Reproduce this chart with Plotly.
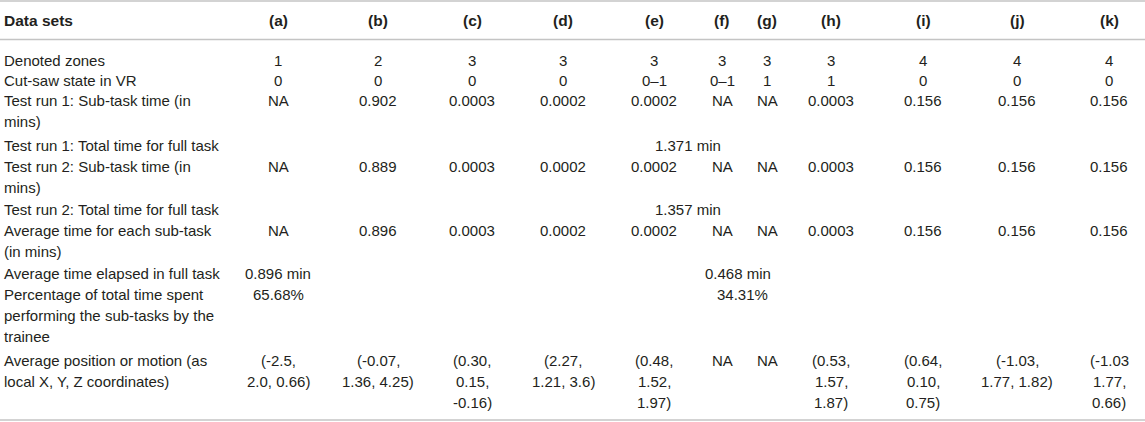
import plotly.graph_objects as go

# ---------------- data ----------------
header_label = "Data sets"
columns = ["(a)", "(b)", "(c)", "(d)", "(e)", "(f)", "(g)", "(h)", "(i)", "(j)", "(k)"]

row_labels = [
    "Denoted zones",
    "Cut-saw state in VR",
    "Test run 1: Sub-task time (in<br>mins)",
    "Test run 1: Total time for full task",
    "Test run 2: Sub-task time (in<br>mins)",
    "Test run 2: Total time for full task",
    "Average time for each sub-task<br>(in mins)",
    "Average time elapsed in full task",
    "Percentage of total time spent<br>performing the sub-tasks by the<br>trainee",
    "Average position or motion (as<br>local X, Y, Z coordinates)",
]

denoted_zones = ["1", "2", "3", "3", "3", "3", "3", "3", "4", "4", "4"]
cut_saw_state = ["0", "0", "0", "0", "0–1", "0–1", "1", "1", "0", "0", "0"]
run1_sub_time = ["NA", "0.902", "0.0003", "0.0002", "0.0002", "NA", "NA", "0.0003", "0.156", "0.156", "0.156"]
run1_total = ["1.371 min"]
run2_sub_time = ["NA", "0.889", "0.0003", "0.0002", "0.0002", "NA", "NA", "0.0003", "0.156", "0.156", "0.156"]
run2_total = ["1.357 min"]
avg_sub_time = ["NA", "0.896", "0.0003", "0.0002", "0.0002", "NA", "NA", "0.0003", "0.156", "0.156", "0.156"]
avg_elapsed = ["0.896 min", "0.468 min"]
pct_time = ["65.68%", "34.31%"]
avg_position = [
    "(-2.5,<br>2.0, 0.66)",
    "(-0.07,<br>1.36, 4.25)",
    "(0.30,<br>0.15,<br>-0.16)",
    "(2.27,<br>1.21, 3.6)",
    "(0.48,<br>1.52,<br>1.97)",
    "NA",
    "NA",
    "(0.53,<br>1.57,<br>1.87)",
    "(0.64,<br>0.10,<br>0.75)",
    "(-1.03,<br>1.77, 1.82)",
    "(-1.03<br>1.77,<br>0.66)",
]

# ---------------- layout (pixel positions) ----------------
W, H = 1145, 422
col_x = [278, 378, 472, 563, 654, 722, 767, 831, 923, 1017, 1109]
label_x = 2
header_y = 20
row_y = [60, 80, 100, 145, 166, 209, 230, 273, 294, 360]
line_gap = 21
span_x_total = 688           # spans (e)-(f)
span_x_second = [278, 738]   # (a) and the merged block right of it
rules_y = [1, 39.5, 420]

FONT = "Liberation Sans, Arial, Helvetica, sans-serif"
TXT = "#231f20"
SIZE = 15

fig = go.Figure()
annotations = []


def add_text(x, y, text, anchor="center", bold=False):
    # split multi-line cells so the line spacing matches the source table
    for k, part in enumerate(text.split("<br>")):
        annotations.append(dict(
            x=x, y=y + k * line_gap, xref="x", yref="y",
            text="<b>" + part + "</b>" if bold else part,
            showarrow=False, xanchor=anchor, yanchor="middle",
            font=dict(family=FONT, size=SIZE + (0.5 if bold else 0), color=TXT),
        ))


# header
add_text(label_x, header_y, header_label, anchor="left", bold=True)
for cx, c in zip(col_x, columns):
    add_text(cx, header_y, c, bold=True)

# row labels
for ry, lab in zip(row_y, row_labels):
    add_text(label_x, ry, lab, anchor="left")

# per-column rows
per_col_rows = {0: denoted_zones, 1: cut_saw_state, 2: run1_sub_time,
                4: run2_sub_time, 6: avg_sub_time, 9: avg_position}
for ri, vals in per_col_rows.items():
    for cx, v in zip(col_x, vals):
        add_text(cx, row_y[ri], v)

# merged rows
add_text(span_x_total, row_y[3], run1_total[0])
add_text(span_x_total, row_y[5], run2_total[0])
for sx, v in zip(span_x_second, avg_elapsed):
    add_text(sx, row_y[7], v)
for sx, v in zip([span_x_second[0], span_x_second[1] + 4], pct_time):
    add_text(sx, row_y[8], v)

shapes = [dict(type="line", xref="x", yref="y", x0=0, x1=W, y0=ry, y1=ry,
               line=dict(color="#c4c4c4", width=1.5)) for ry in rules_y]

fig.update_layout(
    width=W, height=H,
    margin=dict(l=0, r=0, t=0, b=0),
    paper_bgcolor="white", plot_bgcolor="white",
    xaxis=dict(range=[0, W], visible=False, fixedrange=True),
    yaxis=dict(range=[H, 0], visible=False, fixedrange=True),
    annotations=annotations, shapes=shapes,
    showlegend=False,
)

# page body has a default 8px margin; drop it so the table sits flush
fig.write_html("out.html", config={"displayModeBar": False},
               post_script="document.body.style.margin='0';")
